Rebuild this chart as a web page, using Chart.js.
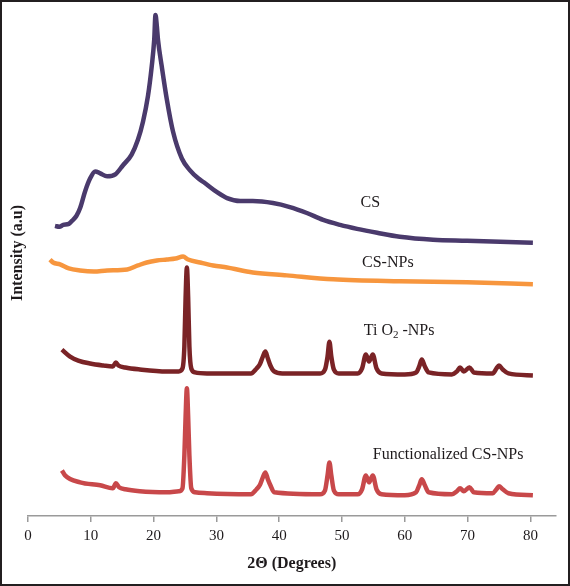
<!DOCTYPE html>
<html>
<head>
<meta charset="utf-8">
<script src="https://cdn.jsdelivr.net/npm/chart.js@4.4.0/dist/chart.umd.min.js"></script>
<style>
  html, body { margin: 0; padding: 0; background: #fff; }
  canvas { display: block; }
</style>
</head>
<body>
<canvas id="xrd" width="570" height="586"></canvas>
<script>
// 2θ (graus) i intensitat (u.a.) de cada difractograma, llegits de la figura
const csData = [
  [4.3, 293], [5.0, 292], [5.6, 294], [6.5, 295], [7.0, 298], [7.7, 303], [8.3, 311],
  [9.1, 328], [9.9, 341], [10.7, 348], [11.5, 346], [12.6, 343], [13.9, 345], [15.1, 354],
  [16.5, 365], [17.5, 380], [18.3, 398], [19.1, 424], [19.7, 454], [20.1, 481], [20.3, 506],
  [20.5, 496], [20.7, 481], [21.3, 454], [22.1, 421], [23.1, 388], [24.5, 361], [25.8, 349],
  [27.1, 341], [28.0, 337], [30.1, 327], [31.7, 321], [33.8, 318], [35.8, 318], [39.0, 316],
  [41.7, 312], [44.4, 306], [47.0, 299], [49.7, 294], [52.4, 290], [55.6, 286], [59.2, 282],
  [64.5, 279], [69.9, 278], [75.2, 277], [80.4, 276]
];

const csNpsData = [
  [3.5, 259], [4.0, 256], [5.1, 254], [6.5, 250], [8.3, 248], [10.5, 247], [12.6, 248],
  [15.8, 249], [17.5, 253], [18.9, 256], [20.5, 258], [22.1, 259], [23.5, 260], [24.7, 262],
  [25.5, 259], [27.4, 256], [29.5, 253], [31.7, 251], [35.8, 246], [41.2, 243], [48.6, 239],
  [59.2, 237], [69.9, 236], [80.4, 234]
];

const tio2Data = [
  [5.4, 168], [6.7, 161], [8.0, 157], [9.9, 154], [12.0, 152], [13.5, 151], [14.0, 155],
  [14.4, 152], [15.5, 150], [17.8, 148], [22.1, 146], [24.0, 146], [24.6, 149], [24.9, 171],
  [25.1, 221], [25.3, 251], [25.5, 221], [25.7, 171], [26.0, 149], [26.6, 145], [28.5, 144],
  [32.0, 144], [35.5, 144], [36.4, 149], [36.9, 153], [37.4, 161], [37.8, 166], [38.2, 159],
  [38.6, 152], [39.2, 146], [40.5, 144], [46.5, 144], [47.3, 148], [47.7, 161], [48.0, 176],
  [48.3, 161], [48.7, 148], [49.5, 144], [52.5, 144], [53.2, 149], [53.8, 163], [54.3, 156],
  [54.9, 163], [55.5, 149], [56.3, 144], [60.0, 143], [61.8, 145], [62.3, 151], [62.7, 158],
  [63.2, 151], [63.8, 145], [67.5, 143], [68.3, 146], [68.8, 150], [69.4, 146], [70.3, 150],
  [71.0, 145], [74.0, 144], [74.6, 149], [75.0, 152], [75.6, 148], [76.5, 144], [80.4, 142]
];

const funcData = [
  [5.4, 46], [5.9, 41], [8.3, 34], [11.5, 31], [13.5, 28], [14.0, 33], [14.5, 29],
  [15.5, 27], [17.8, 25], [22.1, 24], [24.0, 25], [24.6, 28], [24.9, 61], [25.1, 101],
  [25.3, 129], [25.5, 101], [25.7, 61], [26.0, 28], [26.6, 24], [28.5, 23], [35.5, 22],
  [36.4, 27], [36.9, 31], [37.4, 39], [37.8, 44], [38.2, 37], [38.6, 31], [39.2, 24],
  [46.5, 22], [47.3, 26], [47.7, 41], [48.0, 54], [48.3, 41], [48.7, 26], [49.5, 22],
  [52.5, 22], [53.2, 27], [53.8, 41], [54.3, 34], [54.9, 41], [55.5, 27], [56.3, 22],
  [60.0, 21], [61.8, 24], [62.3, 31], [62.7, 37], [63.2, 31], [63.8, 24], [67.5, 22],
  [68.3, 25], [68.8, 28], [69.4, 25], [70.3, 29], [71.0, 24], [74.0, 23], [74.6, 27],
  [75.0, 30], [75.6, 27], [76.5, 23], [80.4, 21]
];

const seriesNames = ['CS', 'CS-NPs', 'TiO2-NPs', 'Functionalized CS-NPs'];
const seriesColors = ['#4a3a6c', '#f7963e', '#7a2326', '#c8484a'];
const xTicks = [0, 10, 20, 30, 40, 50, 60, 70, 80];

// etiquetes de cada corba (posició en coordenades de dades)
const etiquetes = [
  { parts: [['CS', 0]], x: 54.5, y: 316 },
  { parts: [['CS-NPs', 0]], x: 57.3, y: 256 },
  { parts: [['Ti O', 0], ['2', 1], [' -NPs', 0]], x: 59.1, y: 187 },
  { parts: [['Functionalized CS-NPs', 0]], x: 66.9, y: 62 }
];

const toPoints = arr => arr.map(p => ({ x: p[0], y: p[1] }));
const allData = [csData, csNpsData, tio2Data, funcData];

const marcPlugin = {
  id: 'marc',
  beforeDraw(chart) {
    const ctx = chart.ctx;
    ctx.save();
    ctx.fillStyle = '#fff';
    ctx.fillRect(0, 0, chart.width, chart.height);
    ctx.restore();
  },
  afterDraw(chart) {
    const ctx = chart.ctx;
    const xs = chart.scales.x, ys = chart.scales.y;
    ctx.save();
    ctx.fillStyle = '#1e1a1c';
    ctx.textBaseline = 'middle';
    etiquetes.forEach(et => {
      const big = '16px "Liberation Serif", "Times New Roman", serif';
      const small = '11px "Liberation Serif", "Times New Roman", serif';
      let total = 0;
      et.parts.forEach(([t, sub]) => { ctx.font = sub ? small : big; total += ctx.measureText(t).width; });
      let px = xs.getPixelForValue(et.x) - total / 2;
      const py = ys.getPixelForValue(et.y);
      et.parts.forEach(([t, sub]) => {
        ctx.font = sub ? small : big;
        ctx.fillText(t, px, sub ? py + 4 : py);
        px += ctx.measureText(t).width;
      });
    });
    // marc de la figura
    ctx.strokeStyle = '#231f20';
    ctx.lineWidth = 2;
    ctx.strokeRect(1, 1, chart.width - 2, chart.height - 2);
    ctx.restore();
  }
};

new Chart(document.getElementById('xrd'), {
  type: 'line',
  data: {
    datasets: allData.map((d, i) => ({
      label: seriesNames[i],
      data: toPoints(d),
      borderColor: seriesColors[i],
      borderWidth: 4.5,
      pointRadius: 0,
      cubicInterpolationMode: 'monotone',
      fill: false
    }))
  },
  options: {
    responsive: false,
    animation: false,
    devicePixelRatio: 1,
    layout: { padding: { left: 0.8, right: 14.5, top: 10, bottom: 8.8 } },
    plugins: { legend: { display: false }, tooltip: { enabled: false } },
    scales: {
      x: {
        type: 'linear',
        min: 0,
        max: 84,
        afterBuildTicks: scale => { scale.ticks = xTicks.map(v => ({ value: v })); },
        ticks: {
          padding: 5,
          color: '#1e1a1c',
          font: { family: '"Liberation Serif", "Times New Roman", serif', size: 15, lineHeight: 1.2 }
        },
        grid: { drawOnChartArea: false, drawTicks: true, tickLength: 6, color: '#9a9a9a', lineWidth: 1.5 },
        border: { display: true, color: '#9a9a9a', width: 1.5 },
        title: {
          display: true,
          text: '2Θ (Degrees)',
          color: '#1e1a1c',
          padding: { top: 4, bottom: 4 },
          font: { family: '"Liberation Serif", "Times New Roman", serif', size: 16, weight: 'bold', lineHeight: 1.2 }
        }
      },
      y: {
        min: 0,
        max: 511,
        ticks: { display: false },
        grid: { display: false, drawTicks: false },
        border: { display: false },
        title: {
          display: true,
          text: '     Intensity (a.u)',
          color: '#1e1a1c',
          padding: { top: 7, bottom: 1 },
          font: { family: '"Liberation Serif", "Times New Roman", serif', size: 16, weight: 'bold', lineHeight: 1.2 }
        }
      }
    }
  },
  plugins: [marcPlugin]
});
</script>
</body>
</html>
